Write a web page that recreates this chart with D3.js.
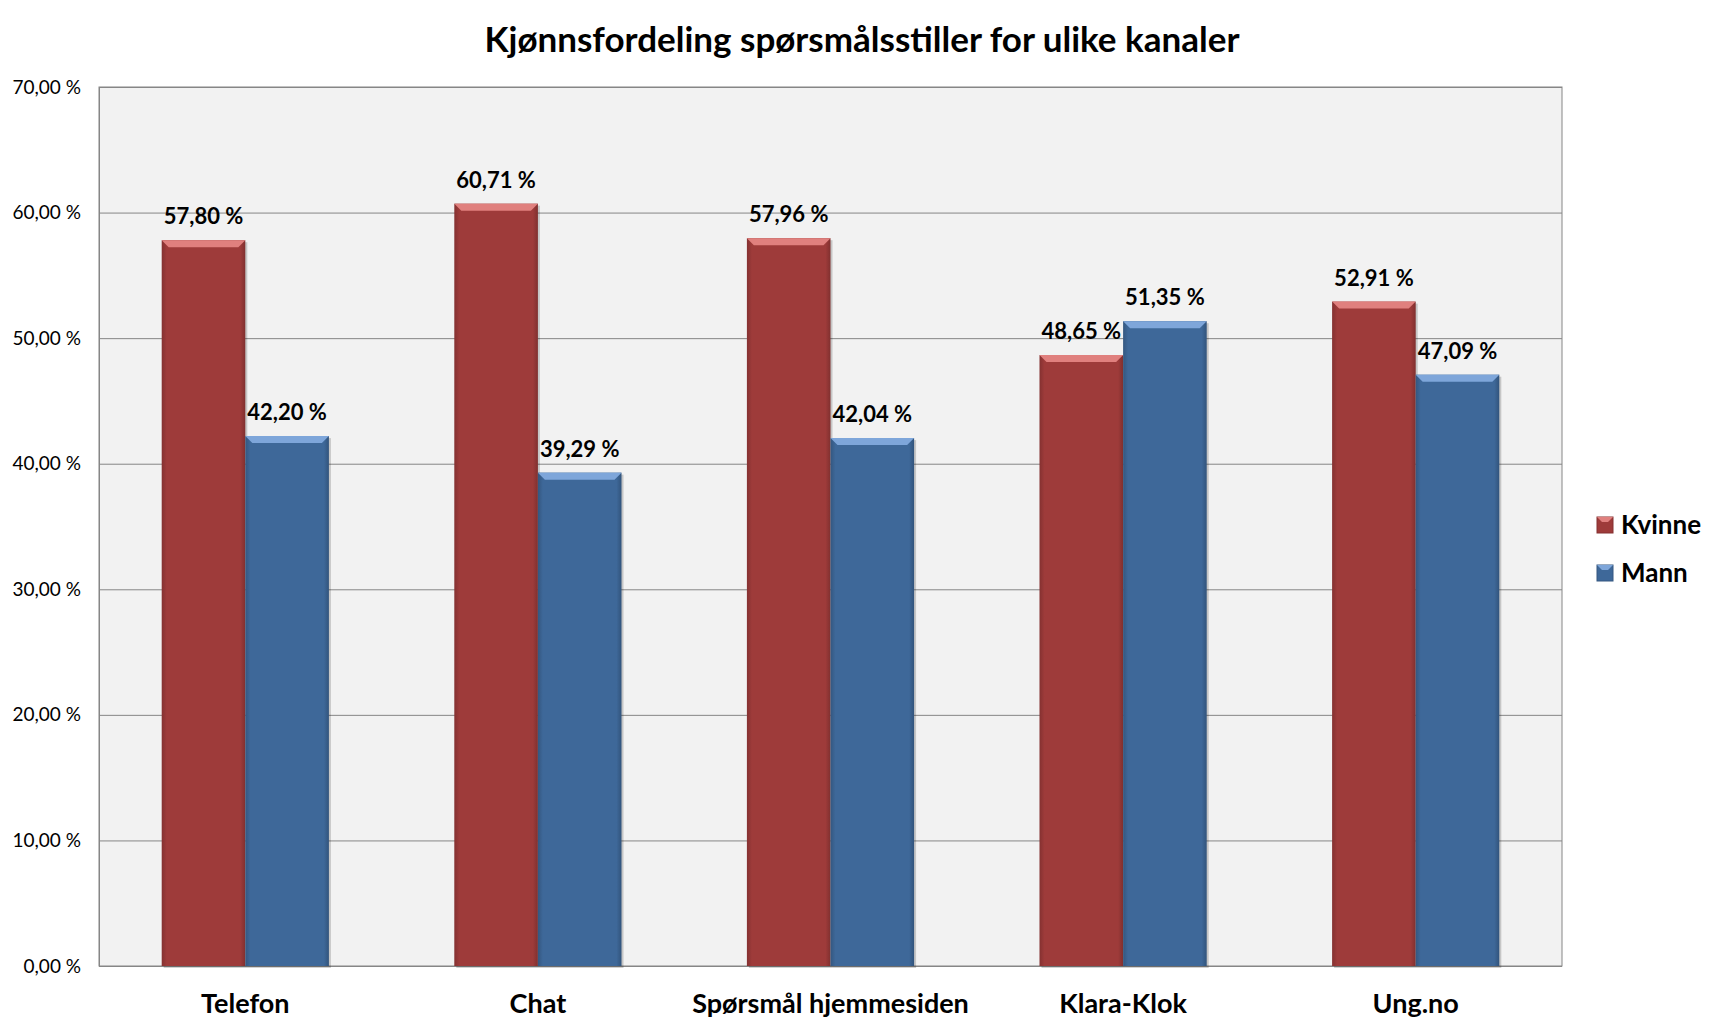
<!DOCTYPE html>
<html lang="no">
<head>
  <meta charset="UTF-8">
  <script src="https://cdn.jsdelivr.net/npm/d3@7"></script>
  <title>Kjønnsfordeling</title>
  <style>
    body { margin: 0; background: #fff; }
    text { font-family: Lato, "Open Sans", sans-serif; }
  </style>
</head>
<body>
  <script>
      // chart data
      var channels = ["Telefon", "Chat", "Spørsmål hjemmesiden", "Klara-Klok", "Ung.no"];
      var kvinne = [57.80, 60.71, 57.96, 48.65, 52.91];
      var mann = [42.20, 39.29, 42.04, 51.35, 47.09];
      var seriesNames = ["Kvinne", "Mann"];
      var yTicks = [0, 10, 20, 30, 40, 50, 60, 70];

      var width = 1725, height = 1034;
      var margin = {top: 87, right: 163, bottom: 68, left: 99};
      var colors = ["#9E3B3A", "#3E6899"];
      var light = ["#E0807E", "#7EA6DA"];

      var svg = d3.select("body").append("svg")
        .attr("width", width)
        .attr("height", height);

      // gradients for the bevel look
      var defs = svg.append("defs");
      colors.forEach(function(c, i){
        var g = defs.append("linearGradient").attr("id", "grad" + i)
          .attr("x1", "0").attr("x2", "1").attr("y1", "0").attr("y2", "0");
        g.append("stop").attr("offset", "0").attr("stop-color", d3.color(c).darker(0.5));
        g.append("stop").attr("offset", "0.06").attr("stop-color", c);
        g.append("stop").attr("offset", "0.94").attr("stop-color", c);
        g.append("stop").attr("offset", "1").attr("stop-color", d3.color(c).darker(0.6));
      });

      var x0 = d3.scaleBand().domain(channels)
        .range([margin.left, width - margin.right]);
      var x1 = d3.scaleBand().domain(seriesNames)
        .range([0, x0.bandwidth()]).paddingOuter(0.75);
      var y = d3.scaleLinear().domain([0, 70])
        .range([height - margin.bottom, margin.top]);

      var fmt = function(v){ return v.toFixed(2).replace(".", ",") + " %"; };

      // plot background
      svg.append("rect")
        .attr("x", margin.left).attr("y", margin.top)
        .attr("width", width - margin.left - margin.right)
        .attr("height", y(0) - margin.top)
        .attr("fill", "#F2F2F2")
        .attr("stroke", "#868686");

      // gridlines and y labels
      var yAxis = d3.axisLeft(y).tickValues(yTicks)
        .tickSize(-(width - margin.left - margin.right))
        .tickFormat(fmt).tickPadding(18);
      var ya = svg.append("g").attr("transform", "translate(" + margin.left + ",0)").call(yAxis);
      ya.select(".domain").attr("stroke", "#868686");
      ya.selectAll(".tick line").attr("stroke", "#868686");
      ya.selectAll(".tick text").attr("font-size", 19).attr("fill", "#000")
        .attr("font-family", "Lato, sans-serif");

      // bars
      var rows = channels.map(function(c, i){
        return [{ch: c, s: 0, v: kvinne[i]}, {ch: c, s: 1, v: mann[i]}];
      });
      var groups = svg.append("g").selectAll("g").data(rows).enter().append("g")
        .attr("transform", function(d){ return "translate(" + x0(d[0].ch) + ",0)"; });

      var bars = groups.selectAll("g.bar").data(function(d){ return d; }).enter()
        .append("g").classed("bar", true);

      bars.append("rect")
        .attr("x", function(d){ return x1(seriesNames[d.s]) + 2; })
        .attr("y", function(d){ return y(d.v) + 2; })
        .attr("width", x1.bandwidth())
        .attr("height", function(d){ return y(0) - y(d.v); })
        .attr("fill", "rgba(0,0,0,0.18)");

      bars.append("rect")
        .attr("x", function(d){ return x1(seriesNames[d.s]); })
        .attr("y", function(d){ return y(d.v); })
        .attr("width", x1.bandwidth())
        .attr("height", function(d){ return y(0) - y(d.v); })
        .attr("fill", function(d){ return "url(#grad" + d.s + ")"; });

      // top bevel
      bars.append("path")
        .attr("d", function(d){
          var xl = x1(seriesNames[d.s]), xr = xl + x1.bandwidth(), yt = y(d.v), b = 7;
          return "M" + xl + "," + yt + "L" + xr + "," + yt + "L" + (xr - b) + "," + (yt + b) +
                 "L" + (xl + b) + "," + (yt + b) + "Z";
        })
        .attr("fill", function(d){ return light[d.s]; });

      // value labels
      bars.append("text")
        .attr("x", function(d){ return x1(seriesNames[d.s]) + x1.bandwidth() / 2; })
        .attr("y", function(d){ return y(d.v) - 16; })
        .attr("text-anchor", "middle")
        .attr("font-size", 22).attr("font-weight", "bold")
        .text(function(d){ return fmt(d.v); });

      // category labels
      svg.append("g").selectAll("text").data(channels).enter().append("text")
        .attr("x", function(d){ return x0(d) + x0.bandwidth() / 2; })
        .attr("y", 1013)
        .attr("text-anchor", "middle")
        .attr("font-size", 27).attr("font-weight", "bold")
        .text(function(d){ return d; });

      // title
      svg.append("text")
        .attr("x", 862).attr("y", 52)
        .attr("text-anchor", "middle")
        .attr("font-size", 35).attr("font-weight", "bold")
        .text("Kjønnsfordeling spørsmålsstiller for ulike kanaler");

      // legend
      var legend = svg.append("g").selectAll("g").data(seriesNames).enter().append("g")
        .attr("transform", function(d, i){ return "translate(1597," + (517 + i * 48) + ")"; });
      legend.append("rect")
        .attr("width", 16).attr("height", 16)
        .attr("fill", function(d, i){ return colors[i]; })
        .attr("stroke", function(d, i){ return d3.color(colors[i]).darker(0.5); });
      legend.append("path")
        .attr("d", "M0,0L16,0L11,5L5,5Z")
        .attr("fill", function(d, i){ return light[i]; });
      legend.append("text")
        .attr("x", 24).attr("y", 17)
        .attr("font-size", 26).attr("font-weight", "bold")
        .text(function(d){ return d; });
  </script>
</body>
</html>
